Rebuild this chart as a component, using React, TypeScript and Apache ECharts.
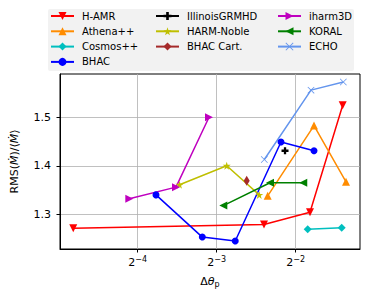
import React, { useEffect, useRef } from "react";
import * as echarts from "echarts";

// log2(Δθ_p) values and RMS(Ṁ)/<Ṁ> values per code
const hamrX = [-4.815, -2.401, -1.819, -1.405];
const hamrY = [1.271, 1.279, 1.304, 1.525];
const athenaX = [-2.354, -1.768, -1.363];
const athenaY = [1.338, 1.483, 1.367];
const cosmosX = [-1.848, -1.418];
const cosmosY = [1.269, 1.272];
const bhacX = [-3.768, -3.182, -2.765, -2.186, -1.768];
const bhacY = [1.34, 1.253, 1.245, 1.449, 1.431];
const illinoisX = [-2.135];
const illinoisY = [1.431];
const harmX = [-3.47, -2.873, -2.461];
const harmY = [1.361, 1.4, 1.34];
const bhacCartX = [-2.62];
const bhacCartY = [1.369];
const iharmX = [-4.106, -3.515, -3.097];
const iharmY = [1.332, 1.356, 1.5];
const koralX = [-2.916, -2.325, -1.904];
const koralY = [1.318, 1.365, 1.365];
const echoX = [-2.397, -1.806, -1.397];
const echoY = [1.413, 1.556, 1.573];

const xTicks = [-4, -3, -2];
const yTicks = [1.3, 1.4, 1.5];

const STAR =
  "path://M0,-1 L0.2245,-0.309 L0.951,-0.309 L0.363,0.118 L0.588,0.809 L0,0.382 L-0.588,0.809 L-0.363,0.118 L-0.951,-0.309 L-0.2245,-0.309 Z";
const PLUS =
  "path://M-1,-0.33 L-0.33,-0.33 L-0.33,-1 L0.33,-1 L0.33,-0.33 L1,-0.33 L1,0.33 L0.33,0.33 L0.33,1 L-0.33,1 L-0.33,0.33 L-1,0.33 Z";
const XMARK =
  "path://M-1,-0.85 L-0.85,-1 L0,-0.15 L0.85,-1 L1,-0.85 L0.15,0 L1,0.85 L0.85,1 L0,0.15 L-0.85,1 L-1,0.85 L-0.15,0 Z";

const FONT = "DejaVu Sans";

const zip = (xs: number[], ys: number[]) => xs.map((x, i) => [x, ys[i]]);

function mk(name: string, xs: number[], ys: number[], color: string, symbol: string, size: any, rotate = 0) {
  return {
    name,
    type: "line",
    data: zip(xs, ys),
    symbol,
    symbolSize: size,
    symbolRotate: rotate,
    showAllSymbol: true,
    lineStyle: { color, width: 1.5 },
    itemStyle: { color, borderWidth: 0 },
    emphasis: { disabled: true },
  };
}

export default function App() {
  const ref = useRef<HTMLDivElement>(null);
  useEffect(() => {
    if (!ref.current) return;
    const chart = echarts.init(ref.current, null, { renderer: "svg" });
    const legendCommon = {
      orient: "vertical",
      top: 10,
      padding: 0,
      itemWidth: 23,
      itemHeight: 10,
      itemGap: 3.3,
      selectedMode: false,
      textStyle: { fontFamily: FONT, fontSize: 10, color: "#000", lineHeight: 12, padding: [0, 0, 0, 3] },
    };
    chart.setOption({
      animation: false,
      textStyle: { fontFamily: FONT },
      graphic: [
        {
          type: "rect",
          shape: { x: 48, y: 9, width: 306, height: 62, r: 2 },
          style: { fill: "#f2f2f2", stroke: "none" },
          z: 0,
        },
      ],
      legend: [
        { ...legendCommon, left: 50, data: ["H-AMR", "Athena++", "Cosmos++", "BHAC"] },
        { ...legendCommon, left: 155, data: ["IllinoisGRMHD", "HARM-Noble", "BHAC Cart."] },
        { ...legendCommon, left: 277, data: ["iharm3D", "KORAL", "ECHO"] },
      ],
      grid: { left: 60, right: 14, top: 74, bottom: 52, show: true, borderColor: "#000", borderWidth: 1 },
      xAxis: {
        type: "value",
        min: -4.983,
        max: -1.186,
        name: "{n|Δ}{i|θ}{s|p}",
        nameLocation: "middle",
        nameGap: 25,
        nameTextStyle: {
          rich: {
            n: { fontFamily: FONT, fontSize: 11, color: "#000" },
            i: { fontFamily: FONT, fontSize: 11, fontStyle: "italic", color: "#000" },
            s: { fontFamily: FONT, fontSize: 8, color: "#000", verticalAlign: "bottom", padding: [6, 0, 0, 0] },
          },
        },
        axisLine: { lineStyle: { color: "#000", width: 1 } },
        axisTick: { show: true, length: 3.5, customValues: xTicks, lineStyle: { color: "#000" } },
        axisLabel: {
          customValues: xTicks,
          margin: 6,
          formatter: (v: number) => `{b|2}{s|${String(v).replace("-", "−")}}`,
          rich: {
            b: { fontFamily: FONT, fontSize: 11, color: "#000" },
            s: { fontFamily: FONT, fontSize: 8, color: "#000", verticalAlign: "top", padding: [0, 0, 7, 0] },
          },
        },
        splitLine: { show: true, lineStyle: { color: "#b0b0b0", width: 0.8 } },
      },
      yAxis: {
        type: "value",
        min: 1.2284,
        max: 1.5893,
        name: "{n|RMS(}{i|Ṁ}{n|)/⟨}{i|Ṁ}{n|⟩}",
        nameLocation: "middle",
        nameGap: 40,
        nameTextStyle: {
          rich: {
            n: { fontFamily: FONT, fontSize: 11, color: "#000" },
            i: { fontFamily: FONT, fontSize: 11, fontStyle: "italic", color: "#000" },
          },
        },
        axisLine: { show: true, lineStyle: { color: "#000", width: 1 } },
        axisTick: { show: true, length: 3.5, customValues: yTicks, lineStyle: { color: "#000" } },
        axisLabel: {
          customValues: yTicks,
          margin: 9,
          fontFamily: FONT,
          fontSize: 11,
          color: "#000",
          formatter: (v: number) => v.toFixed(1),
        },
        splitLine: { show: true, lineStyle: { color: "#b0b0b0", width: 0.8 } },
      },
      series: [
        mk("H-AMR", hamrX, hamrY, "#ff0000", "triangle", 8, 180),
        mk("Athena++", athenaX, athenaY, "#ff8c00", "triangle", 8),
        mk("Cosmos++", cosmosX, cosmosY, "#00bfbf", "diamond", 8),
        mk("BHAC", bhacX, bhacY, "#0000ff", "circle", 7),
        mk("IllinoisGRMHD", illinoisX, illinoisY, "#000000", PLUS, 7),
        mk("HARM-Noble", harmX, harmY, "#bfbf00", STAR, 8),
        mk("BHAC Cart.", bhacCartX, bhacCartY, "#a52a2a", "diamond", [6, 10]),
        mk("iharm3D", iharmX, iharmY, "#bf00bf", "triangle", 8, -90),
        mk("KORAL", koralX, koralY, "#008000", "triangle", 8, 90),
        mk("ECHO", echoX, echoY, "#6495ed", XMARK, 7),
      ],
    });
    return () => chart.dispose();
  }, []);
  return <div ref={ref} style={{ position: "absolute", left: 0, top: 0, width: 374, height: 301 }} />;
}
